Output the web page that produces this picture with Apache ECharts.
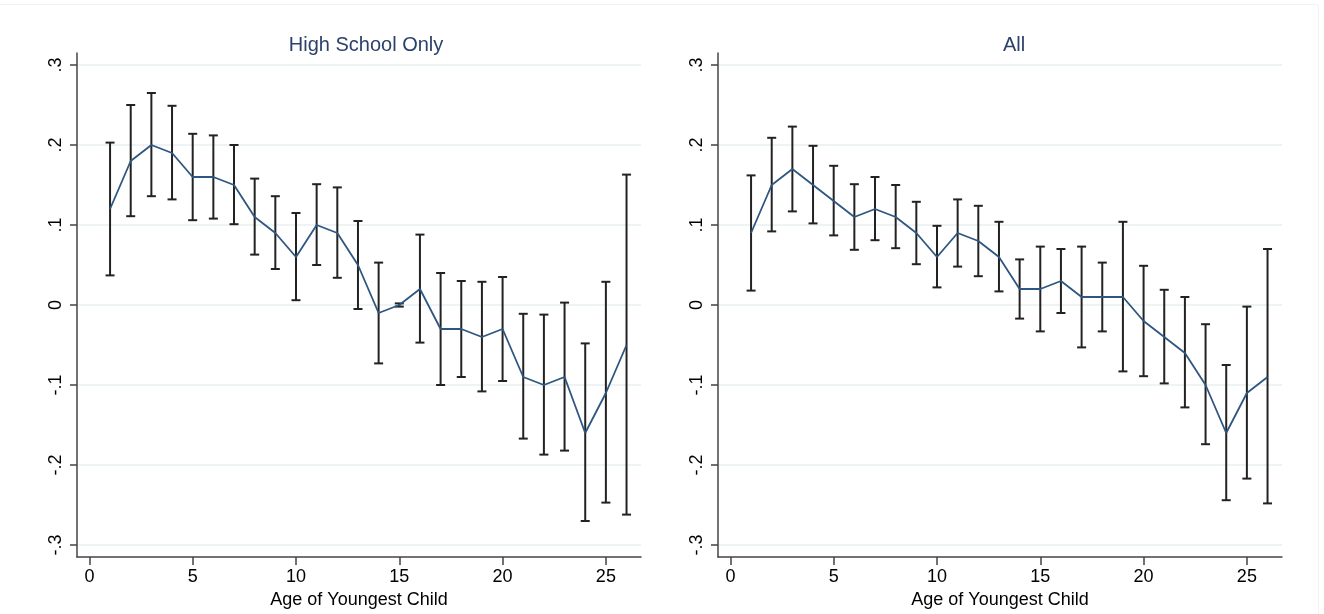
<!DOCTYPE html>
<html>
<head>
<meta charset="utf-8">
<script src="https://cdn.jsdelivr.net/npm/echarts@6/dist/echarts.min.js"></script>
<style>
html,body{margin:0;padding:0;background:#fff;}
#chart{width:1324px;height:614px;}
</style>
</head>
<body>
<div id="chart"></div>
<script>
// ---- data ----
var ages = [1,2,3,4,5,6,7,8,9,10,11,12,13,14,15,16,17,18,19,20,21,22,23,24,25,26];

var hsEst   = [0.12,0.18,0.20,0.19,0.16,0.16,0.15,0.11,0.09,0.06,0.10,0.09,0.05,-0.01,0.00,0.02,-0.03,-0.03,-0.04,-0.03,-0.09,-0.10,-0.09,-0.16,-0.11,-0.05];
var hsUpper = [0.203,0.250,0.265,0.249,0.214,0.212,0.200,0.158,0.136,0.115,0.151,0.147,0.105,0.053,0.002,0.088,0.040,0.030,0.029,0.035,-0.011,-0.012,0.003,-0.048,0.029,0.163];
var hsLower = [0.037,0.111,0.136,0.132,0.106,0.108,0.101,0.063,0.045,0.006,0.050,0.034,-0.005,-0.073,-0.002,-0.047,-0.100,-0.090,-0.108,-0.095,-0.167,-0.187,-0.182,-0.270,-0.247,-0.262];

var allEst   = [0.09,0.15,0.17,0.15,0.13,0.11,0.12,0.11,0.09,0.06,0.09,0.08,0.06,0.02,0.02,0.03,0.01,0.01,0.01,-0.02,-0.04,-0.06,-0.10,-0.16,-0.11,-0.09];
var allUpper = [0.162,0.209,0.223,0.199,0.174,0.151,0.160,0.150,0.129,0.099,0.132,0.124,0.104,0.057,0.073,0.070,0.073,0.053,0.104,0.049,0.019,0.010,-0.024,-0.075,-0.002,0.070];
var allLower = [0.018,0.092,0.117,0.102,0.087,0.069,0.081,0.071,0.051,0.022,0.048,0.036,0.017,-0.017,-0.033,-0.010,-0.053,-0.033,-0.083,-0.089,-0.098,-0.128,-0.174,-0.244,-0.217,-0.248];

var xTickValues = [0,5,10,15,20,25];
var yTickValues = [-0.3,-0.2,-0.1,0,0.1,0.2,0.3];
var yTickLabels = ['-.3','-.2','-.1','0','.1','.2','.3'];

var panelTitles = ['High School Only','All'];
var xAxisTitle = 'Age of Youngest Child';

// ---- build ----
function pairs(est){ return ages.map(function(a,i){ return [a, est[i]]; }); }
function ciData(lo, hi){ return ages.map(function(a,i){ return [a, lo[i], hi[i]]; }); }

var FONT = 'Liberation Sans, Arial, sans-serif';
var chart = echarts.init(document.getElementById('chart'), null, {renderer:'canvas'});

function yLabelFmt(v){
  for (var i=0;i<yTickValues.length;i++){ if (Math.abs(yTickValues[i]-v)<1e-9) return yTickLabels[i]; }
  return '';
}

function xAxisCfg(idx){
  return {
    type:'value', gridIndex: idx, min:-0.6, max:26.7,
    name: xAxisTitle, nameLocation:'middle', nameGap:34,
    nameTextStyle:{fontFamily:FONT, fontSize:18, color:'#000'},
    axisLine:{show:true, onZero:false, lineStyle:{color:'#444', width:1.5}},
    axisTick:{show:true, length:8, customValues:xTickValues, lineStyle:{color:'#444', width:1.5}},
    axisLabel:{show:true, customValues:xTickValues, fontFamily:FONT, fontSize:18, color:'#000', margin:11},
    splitLine:{show:false}
  };
}
function yAxisCfg(idx){
  return {
    type:'value', gridIndex: idx, min:-0.315, max:0.315,
    axisLine:{show:true, onZero:false, lineStyle:{color:'#444', width:1.5}},
    axisTick:{show:true, length:7, customValues:yTickValues, lineStyle:{color:'#444', width:1.5}},
    axisLabel:{show:true, customValues:yTickValues, rotate:90, fontFamily:FONT, fontSize:18, color:'#000', margin:12,
               formatter:yLabelFmt},
    splitLine:{show:true, lineStyle:{color:'#e8f0f2', width:1.5}}
  };
}

function errRender(params, api){
  var x = api.value(0), lo = api.value(1), hi = api.value(2);
  var pLo = api.coord([x, lo]), pHi = api.coord([x, hi]);
  var cap = 4.5;
  var style = {stroke:'#222', lineWidth:2, fill:null};
  return {
    type:'group',
    children:[
      {type:'line', shape:{x1:pLo[0], y1:pLo[1], x2:pHi[0], y2:pHi[1]}, style:style},
      {type:'line', shape:{x1:pHi[0]-cap, y1:pHi[1], x2:pHi[0]+cap, y2:pHi[1]}, style:style},
      {type:'line', shape:{x1:pLo[0]-cap, y1:pLo[1], x2:pLo[0]+cap, y2:pLo[1]}, style:style}
    ]
  };
}

function seriesFor(idx, est, lo, hi){
  return [
    {type:'line', xAxisIndex:idx, yAxisIndex:idx, data:pairs(est), showSymbol:false, symbol:'none',
     lineStyle:{color:'#2f5680', width:1.8}, z:3, silent:true, animation:false},
    {type:'custom', xAxisIndex:idx, yAxisIndex:idx, data:ciData(lo,hi), renderItem:errRender,
     encode:{x:0, y:[1,2]}, z:2, silent:true, animation:false}
  ];
}

var option = {
  backgroundColor:'#fff',
  animation:false,
  title:[
    {text:panelTitles[0], left:361, top:30, textAlign:'center',
     textStyle:{fontFamily:FONT, fontSize:20, fontWeight:'normal', color:'#2c426a'}},
    {text:panelTitles[1], left:1009, top:30, textAlign:'center',
     textStyle:{fontFamily:FONT, fontSize:20, fontWeight:'normal', color:'#2c426a'}}
  ],
  grid:[
    {left:77, top:53, width:564, height:504, containLabel:false},
    {left:718, top:53, width:564, height:504, containLabel:false}
  ],
  xAxis:[xAxisCfg(0), xAxisCfg(1)],
  yAxis:[yAxisCfg(0), yAxisCfg(1)],
  series: seriesFor(0, hsEst, hsLower, hsUpper).concat(seriesFor(1, allEst, allLower, allUpper)),
  graphic:[
    {type:'line', shape:{x1:0, y1:4.5, x2:1318, y2:4.5}, style:{stroke:'#eef2f4', lineWidth:1}, silent:true},
    {type:'line', shape:{x1:1318.5, y1:5, x2:1318.5, y2:614}, style:{stroke:'#eef2f4', lineWidth:1}, silent:true}
  ]
};
chart.setOption(option);
</script>
</body>
</html>
